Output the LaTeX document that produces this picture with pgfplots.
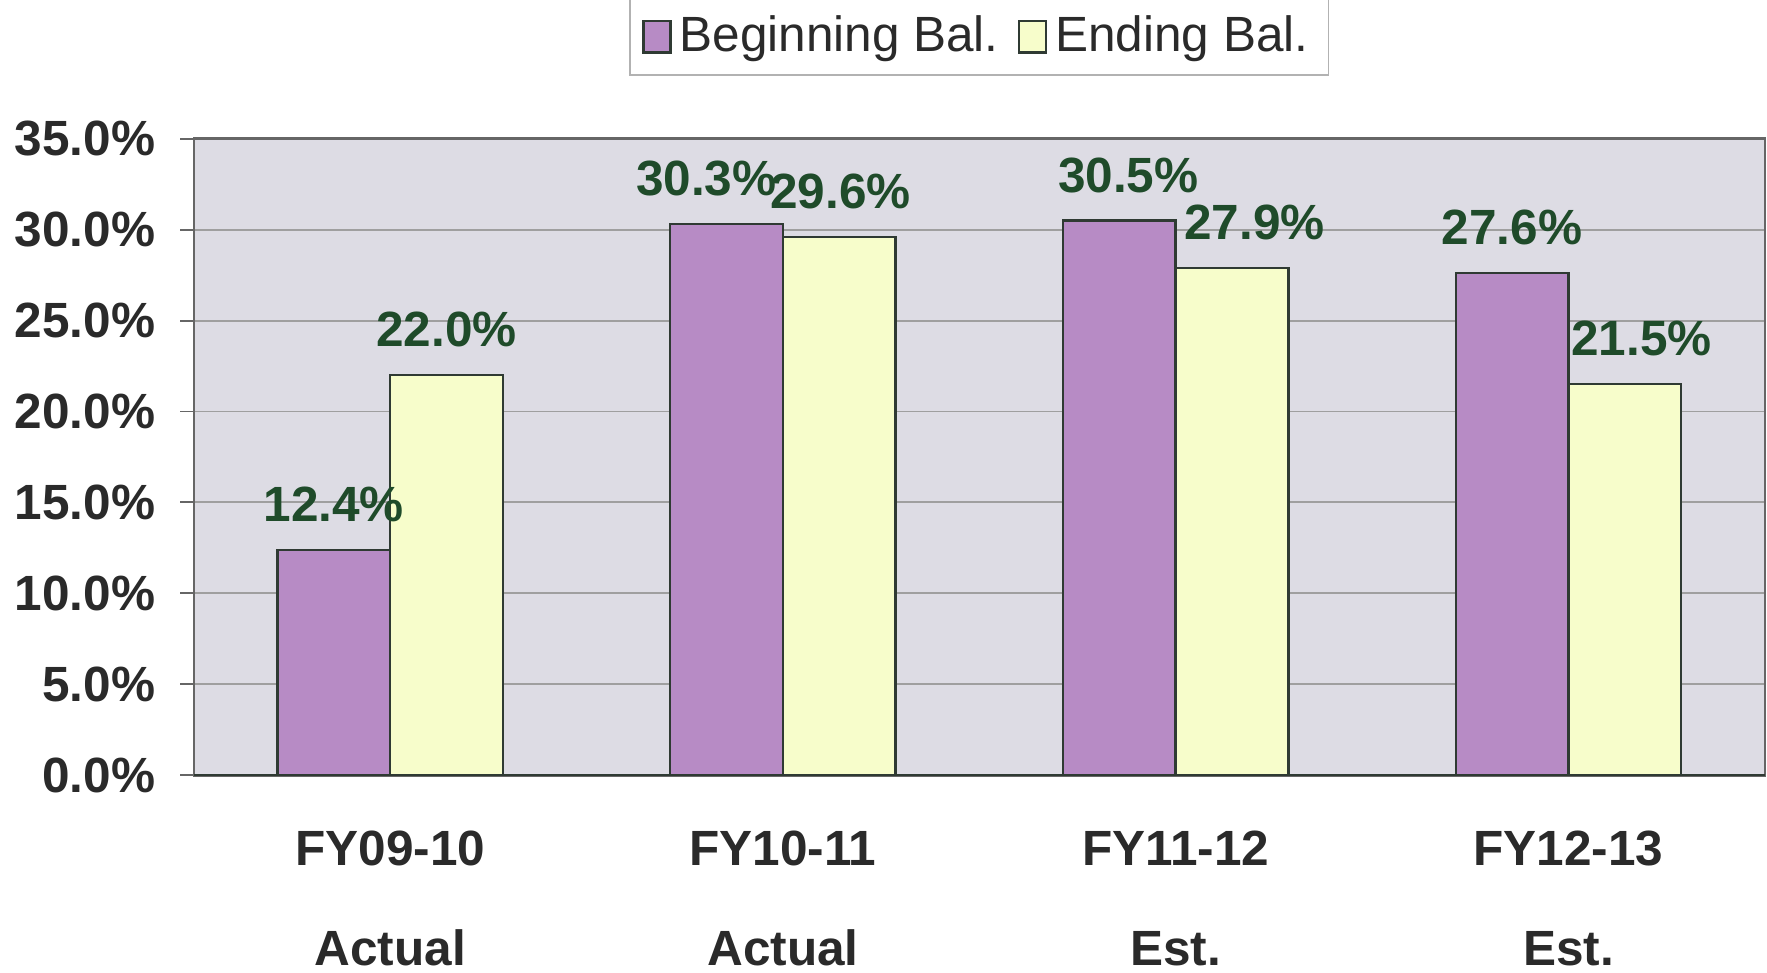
\documentclass[border=0pt]{standalone}
\usepackage{pgfplots}
\pgfplotsset{compat=1.18}
\usepackage{fontspec}
\setmainfont{Liberation Sans}
\usetikzlibrary{calc}
\definecolor{begpurple}{HTML}{B78BC5}
\definecolor{endyellow}{HTML}{F7FDCB}
\definecolor{plotbg}{HTML}{DDDCE4}
\definecolor{labgreen}{HTML}{1F4B2A}
\definecolor{edgedark}{HTML}{2F3A33}
\definecolor{txtdark}{HTML}{2A2A2A}

\begin{document}
\begin{tikzpicture}
\begin{axis}[
    name=ax,
    scale only axis,
    width=13.94cm, height=5.65cm,
    xmin=-0.5, xmax=3.5, ymin=0, ymax=35,
    ybar=0pt, bar width=1.0cm,
    axis background/.style={fill=plotbg},
    axis line style={gray!80!black, line width=0.6pt},
    ytick={0,5,...,35},
    yticklabels={0.0\%,5.0\%,10.0\%,15.0\%,20.0\%,25.0\%,30.0\%,35.0\%},
    xtick={0,1,2,3},
    xticklabels={{FY09-10\\[0.36cm]Actual},{FY10-11\\[0.36cm]Actual},{FY11-12\\[0.36cm]Est.},{FY12-13\\[0.36cm]Est.}},
    xticklabel style={align=center, font=\fontsize{12.5}{15}\selectfont\bfseries, text=txtdark, yshift=-0.25cm},
    yticklabel style={font=\fontsize{12.5}{15}\selectfont\bfseries, text=txtdark, xshift=-0.1cm},
    xtick style={draw=none},
    ytick pos=left, ytick align=outside,
    major tick length=0.12cm,
    ytick style={gray!80!black, line width=0.5pt},
    ymajorgrids, grid style={gray!75, line width=0.5pt},
    /pgf/number format/assume math mode=true,
    nodes near coords={\pgfmathprintnumber[fixed,fixed zerofill,precision=1]{\pgfplotspointmeta}\%},
    every node near coord/.append style={font=\fontsize{12.5}{15}\selectfont\bfseries, text=labgreen, anchor=south, yshift=0.12cm},
    legend style={at={(0.5,1)}, anchor=south, yshift=0.56cm, draw=gray!60, fill=white,
        font=\fontsize{12.5}{15}\selectfont, text=txtdark, legend columns=2,
        /tikz/every even column/.append style={column sep=0.1cm}, inner ysep=0.08cm},
    legend image code/.code={\draw[#1, draw=edgedark] (0cm,-0.14cm) rectangle (0.24cm,0.14cm);},
]
% Beginning balance
\addplot[fill=begpurple, draw=edgedark, line width=0.6pt,
    every node near coord/.append style={xshift={{0,-0.18,0.08,0}[\coordindex]*1cm}}]
    coordinates {(0,12.4) (1,30.3) (2,30.5) (3,27.6)};
\addlegendentry{Beginning Bal.}
% Ending balance
\addplot[fill=endyellow, draw=edgedark, line width=0.6pt,
    every node near coord/.append style={xshift={{0,0.01,0.2,0.15}[\coordindex]*1cm}}]
    coordinates {(0,22.0) (1,29.6) (2,27.9) (3,21.5)};
\addlegendentry{Ending Bal.}
\draw[edgedark, line width=0.8pt] (axis cs:-0.5,0) -- (axis cs:3.5,0);
\end{axis}
\pgfresetboundingbox
\path ($(ax.south west)+(-1.72cm,-1.75cm)$) rectangle ($(ax.north east)+(0.02cm,1.23cm)$);
\end{tikzpicture}
\end{document}
